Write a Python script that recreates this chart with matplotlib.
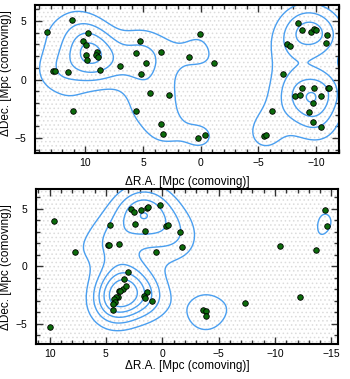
import numpy as np
import matplotlib.pyplot as plt
from matplotlib.patches import Rectangle
from matplotlib.ticker import MultipleLocator

plt.rcParams['font.family'] = ['Liberation Sans', 'DejaVu Sans']
plt.rcParams['hatch.linewidth'] = 0.6

# upper field: member galaxies (Mpc, comoving)
top_ra = [11.16, 13.3, 9.77, 10.2, 9.91, 5.28, 8.99, 5.57, 3.45, 9.97, 9.04, 8.87,
          9.86, 4.78, 6.96, 8.76, 12.8, 12.64, 11.5, 5.19, 4.43, 2.78, 11.04, 5.63,
          3.48, 3.25,
          0.03, 1.02, -1.13, 0.21, -0.37, -8.43, -8.78, -9.53, -9.79, -9.97, -10.96,
          -10.9, -7.48, -7.74, -7.1, -8.78, -9.85, -11.0, -11.13, -8.14, -8.57,
          -10.4, -9.7, -9.39, -9.77, -10.46, -6.14, -5.48, -5.65]
top_dec = [5.12, 4.03, 3.97, 3.26, 2.97, 3.26, 2.4, 2.31, 2.34, 2.11, 2.06, 1.89,
           1.69, 1.43, 1.2, 0.86, 0.71, 0.71, 0.66, 0.49, -1.14, -1.34, -2.66, -2.71,
           -3.8, -4.69,
           3.88, 1.94, 1.43, -4.97, -4.74, 4.86, 4.28, 4.08, 4.34, 4.26, 3.8,
           3.17, 3.0, 2.86, 0.49, -0.71, -0.71, -0.74, -0.74, -1.37, -1.31,
           -1.43, -2.03, -2.74, -3.6, -4.09, -2.68, -4.8, -4.74]

# lower field: member galaxies (Mpc, comoving)
bot_ra = [9.64, 9.99, 7.74, 4.6, 4.84, 4.69, 3.84, 2.77, 2.5, 2.44, 1.91, 1.38,
          1.26, 1.49, 0.22, 0.58, -0.37, -0.52, 3.06, 3.39, 3.48, 3.24, 3.86, 3.71,
          3.89, 4.1, 4.24, 4.19, 4.37, 4.33, 1.38, 1.64, 1.53, 0.9,
          -1.55, -1.79, -14.43, -14.61, -10.46, -13.63, -12.18, -7.3, -3.62,
          -3.92, -3.89]
bot_dec = [3.98, -5.29, 1.22, 3.63, 1.83, 1.83, 1.92, 5.0, 4.76, 3.71, 4.91, 5.08,
           5.14, 3.08, 5.32, 1.27, 3.51, 3.6, -0.47, -1.08, -2.0, -1.72, -2.12, -2.12,
           -2.7, -2.7, -2.85, -3.14, -3.29, -3.78, -2.27, -2.56, -2.74, -3.05,
           2.99, 1.65, 4.94, 3.51, 1.8, 1.39, -2.68, -3.2, -3.81, -3.92, -4.33]

fig = plt.figure(figsize=(3.5, 3.79), dpi=100)
ax1 = fig.add_axes([0.099, 0.5955, 0.870, 0.3905])
ax2 = fig.add_axes([0.103, 0.0923, 0.863, 0.4082])

sigma = 1.5
levels = [1.85, 3.64, 5.43, 7.2, 9.0]


def panel(ax, ra, dec, xlim, ylim):
    ax.add_patch(Rectangle((0, 0), 1, 1, transform=ax.transAxes, facecolor='none',
                           edgecolor='#dcdcdc', hatch='....', linewidth=0, zorder=0))
    gx = np.linspace(min(xlim), max(xlim), 300)
    gy = np.linspace(min(ylim), max(ylim), 300)
    X, Y = np.meshgrid(gx, gy)
    dens = np.zeros_like(X)
    for x, y in zip(ra, dec):
        dens += np.exp(-((X - x) ** 2 + (Y - y) ** 2) / (2 * sigma ** 2))
    ax.contour(X, Y, dens, levels=levels, colors='#4a9ff0', linewidths=1.0, zorder=2)
    ax.scatter(ra, dec, s=16, c='#0b6b0b', edgecolors='black', linewidths=0.6, zorder=3)
    ax.set_xlim(*xlim)
    ax.set_ylim(*ylim)
    ax.xaxis.set_major_locator(MultipleLocator(5))
    ax.xaxis.set_minor_locator(MultipleLocator(1))
    ax.yaxis.set_major_locator(MultipleLocator(5))
    ax.yaxis.set_minor_locator(MultipleLocator(1))
    ax.tick_params(which='both', direction='in', top=True, right=True, labelsize=7.5,
                   width=1.0, color='#333333')
    ax.tick_params(axis='y', pad=6)
    ax.tick_params(which='major', length=5)
    ax.tick_params(which='minor', length=3)
    for s in ax.spines.values():
        s.set_linewidth(1.5)
    ax.set_xlabel('ΔR.A. [Mpc (comoving)]', fontsize=8.5)
    ax.set_ylabel('ΔDec. [Mpc (comoving)]', fontsize=8.5)


panel(ax1, top_ra, top_dec, (14.4, -12.0), (-6.3, 6.35))
panel(ax2, bot_ra, bot_dec, (11.2, -15.6), (-6.77, 6.71))

ax1.xaxis.set_label_coords(0.5, -0.15)
ax1.yaxis.set_label_coords(-0.075, 0.54)
ax2.xaxis.set_label_coords(0.5, -0.105)
ax2.yaxis.set_label_coords(-0.08, 0.5)

fig.savefig('out.png', dpi=100)
